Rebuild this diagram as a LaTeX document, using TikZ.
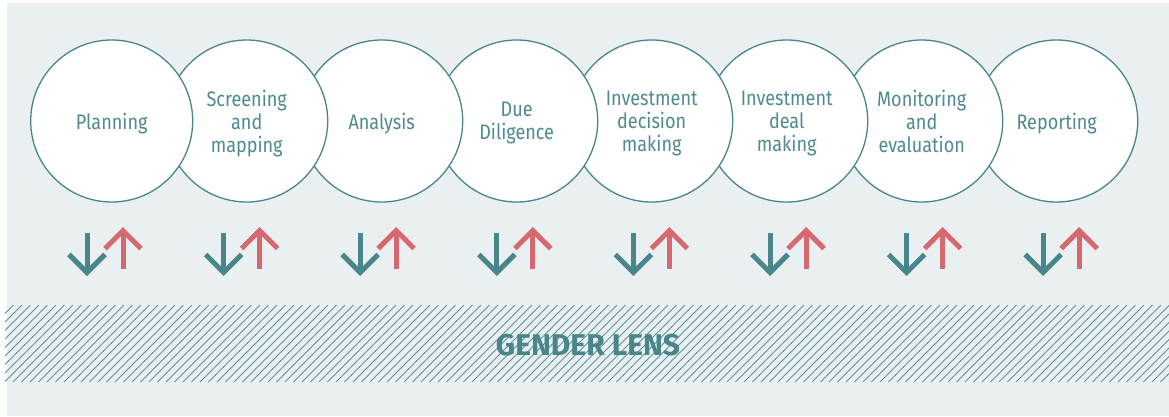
\documentclass[tikz,border=0pt]{standalone}
\usepackage{fontspec}
\setmainfont{Fira Sans}[FakeStretch=0.86]
\newfontfamily\lensfont{Fira Sans}
\usepackage{tikz}
\usetikzlibrary{arrows.meta,positioning}
\usepackage{xcolor}
\definecolor{glback}{RGB}{234,240,242}
\definecolor{glteal}{RGB}{72,134,137}
\definecolor{gltext}{RGB}{78,138,142}
\definecolor{glhatch}{RGB}{92,148,151}
\definecolor{glpink}{RGB}{214,104,112}
\tikzstyle{stage} = [circle, minimum size=162pt, inner sep=0pt, text depth=0pt, draw=glteal, line width=1.3pt, fill=white, text=gltext, align=center, font=\fontsize{21}{23}\selectfont]
\tikzstyle{downarrow} = [line width=5pt, color=glteal, -{Straight Barb[length=18pt,width=36pt]}]
\tikzstyle{uparrow} = [line width=5pt, color=glpink, -{Straight Barb[length=18pt,width=36pt]}]

\begin{document}
\begin{tikzpicture}[x=1pt, y=1pt, node distance=135pt]
\useasboundingbox (0,0) rectangle (1169,416);
\fill[glback] (7,0) rectangle (1169,413);

% Nodes (drawn right to left so each circle sits on top of the next one)
\node (reporting) [stage] at (1056.7,295) {Reporting};
\node (monitoring) [stage, left of=reporting] {Monitoring\\and\\evaluation};
\node (deal) [stage, left of=monitoring] {Investment\\deal\\making};
\node (decision) [stage, left of=deal] {Investment\\decision\\making};
\node (diligence) [stage, left of=decision] {Due\\Diligence};
\node (analysis) [stage, left of=diligence] {Analysis};
\node (screening) [stage, left of=analysis] {Screening\\and\\mapping};
\node (planning) [stage, left of=screening] {Planning};

% Arrows
\foreach \i in {0,...,7} {
  \coordinate (down top \i) at (87+136.6*\i,183);
  \coordinate (down end \i) at (87+136.6*\i,140);
  \coordinate (up low \i) at (123+136.6*\i,147);
  \coordinate (up end \i) at (123+136.6*\i,189);
  \draw[downarrow] (down top \i) -- (down end \i);
  \draw[uparrow] (up low \i) -- (up end \i);
}

% Gender lens band
\begin{scope}
\clip (5,34) rectangle (1169,111);
\foreach \i in {0,...,147}
  \draw[glhatch, line width=1pt] (-72+8.5*\i,34) -- ++(77,77);
\end{scope}
\node (lens) at (588,71) {\lensfont\fontsize{30}{32}\selectfont\bfseries\color{glteal}GENDER LENS};
\end{tikzpicture}
\end{document}
